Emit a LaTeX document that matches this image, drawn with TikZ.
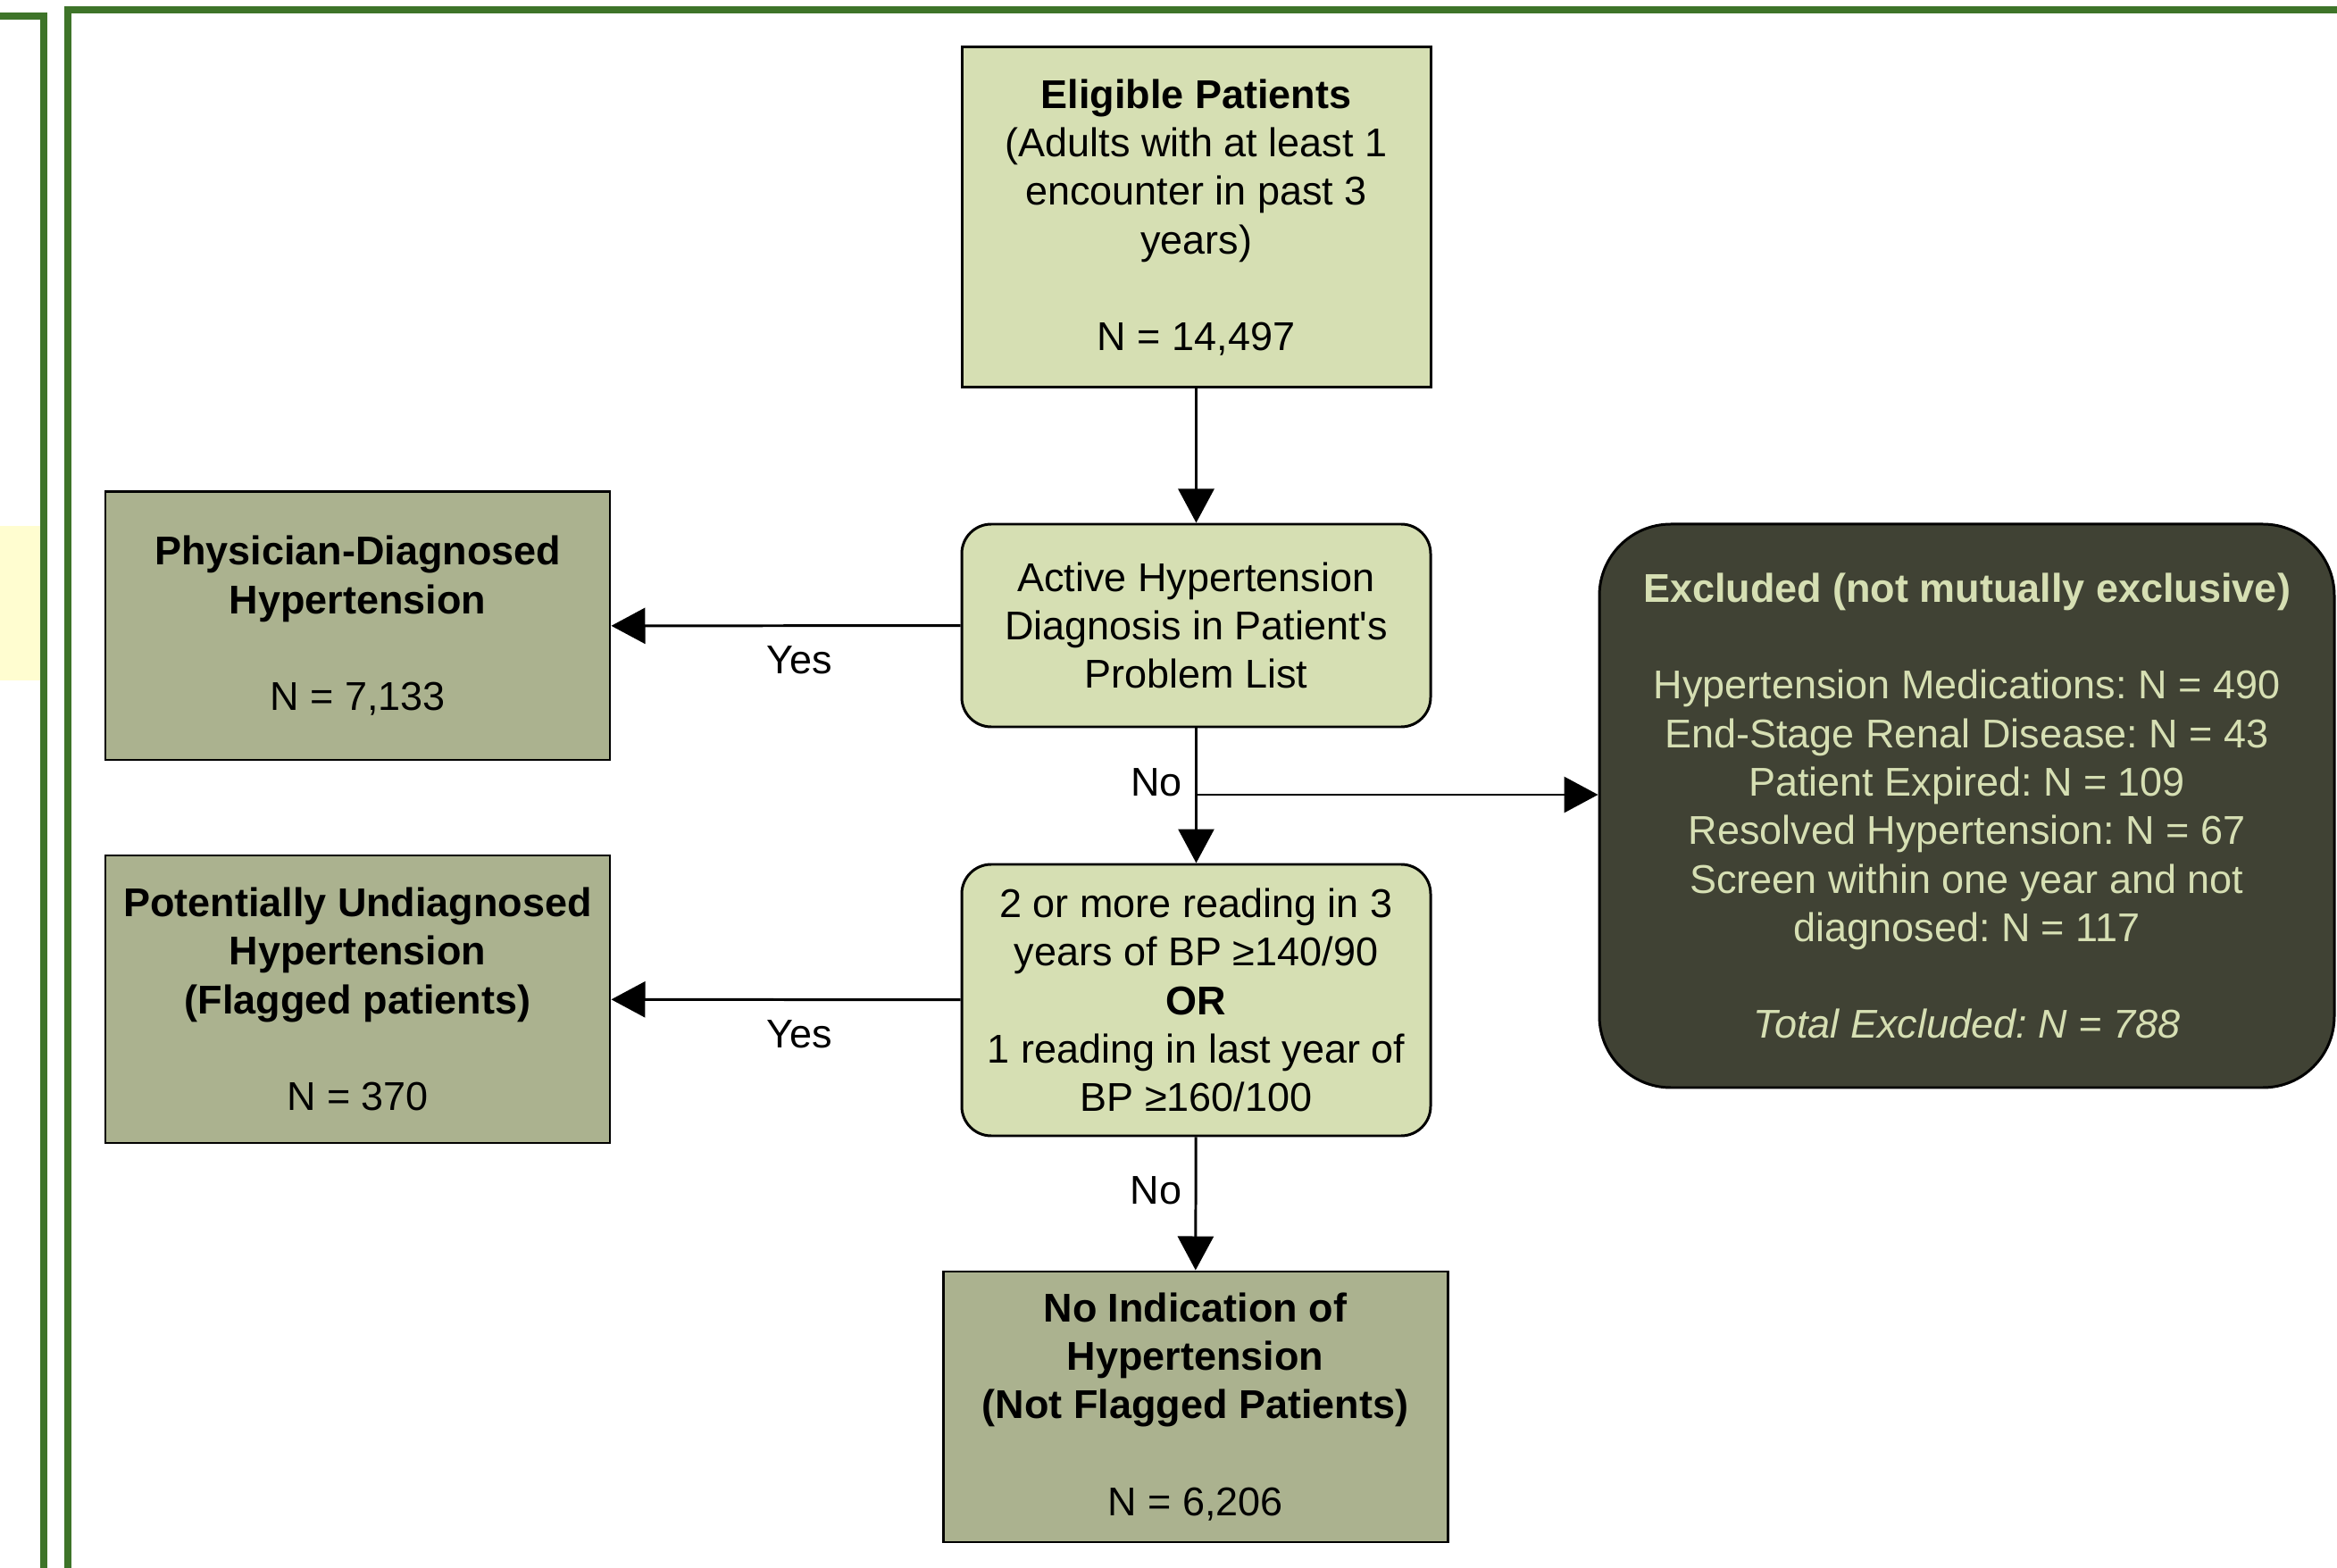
\documentclass[tikz,border=0pt]{standalone}
\usepackage{fontspec}
\setmainfont{Liberation Sans}
\usetikzlibrary{arrows.meta,positioning}
\definecolor{lightbox}{HTML}{D6DFB3}
\definecolor{midbox}{HTML}{ABB28F}
\definecolor{darkbox}{HTML}{404234}
\definecolor{frame}{HTML}{3E7429}
\definecolor{notepatch}{HTML}{FFFDD0}
\frenchspacing

\begin{document}
\begin{tikzpicture}[
	txt/.style={font=\fontsize{12.8}{15.45}\selectfont},
	lightnode/.style={txt, draw, line width=0.85pt, fill=lightbox, align=center, inner sep=0pt},
	resnode/.style={txt, draw, line width=0.85pt, fill=midbox, align=center, inner sep=0pt},
	exclnode/.style={txt, draw, line width=0.85pt, fill=darkbox, text=lightbox, align=center, rounded corners=0.8cm, inner sep=0pt},
	arr/.style={-{Triangle[length=0.38cm,width=0.40cm]}, line width=0.85pt},
	lbl/.style={txt, inner sep=4pt}
	]
			\useasboundingbox (0,0) rectangle (26.17,-17.56);
			\fill[notepatch] (0,-5.89) rectangle (0.45,-7.62);
			\draw[frame, line width=0.08cm] (0,-0.185)--(0.49,-0.185)--(0.49,-17.6);
			\draw[frame, line width=0.08cm] (0.76,-17.6)--(0.76,-0.11)--(26.2,-0.11);
			
			\node[lightnode, minimum width=5.25cm, minimum height=3.81cm] (elig) at (13.395,-2.435)
				{\textbf{Eligible Patients}\\(Adults with at least 1\\encounter in past 3\\years)\\[15.45pt]N = 14,497};
			\node[lightnode, rounded corners=0.33cm, minimum width=5.25cm, minimum height=2.27cm] (active) at (13.395,-7.005)
				{Active Hypertension\\Diagnosis in Patient\textquotesingle s\\Problem List};
			\node[lightnode, rounded corners=0.33cm, minimum width=5.25cm, minimum height=3.04cm] (reading) at (13.395,-11.2)
				{2 or more reading in 3\\years of BP ≥140/90\\\textbf{OR}\\1 reading in last year of\\BP ≥160/100};
			\node[resnode, minimum width=5.65cm, minimum height=3.03cm] (noind) at (13.385,-15.755)
				{\textbf{No Indication of}\\\textbf{Hypertension}\\\textbf{(Not Flagged Patients)}\\[15.45pt]N = 6,206};
			\node[resnode, minimum width=5.65cm, minimum height=3.0cm] (phys) at (4.005,-7.01)
				{\textbf{Physician-Diagnosed}\\\textbf{Hypertension}\\[15.45pt]N = 7,133};
			\node[resnode, minimum width=5.65cm, minimum height=3.22cm] (flag) at (4.005,-11.19)
				{\textbf{Potentially Undiagnosed}\\\textbf{Hypertension}\\\textbf{(Flagged patients)}\\[15.45pt]N = 370};
			\node[exclnode, minimum width=8.23cm, minimum height=6.31cm] (excl) at (22.025,-9.025)
				{\textbf{Excluded (not mutually exclusive)}\\[15.45pt]Hypertension Medications: N = 490\\End-Stage Renal Disease: N = 43\\Patient Expired: N = 109\\Resolved Hypertension: N = 67\\Screen within one year and not\\diagnosed: N = 117\\[15.45pt]\textit{Total Excluded: N = 788}};
			\coordinate (split) at (13.395,-8.90);
			
			\draw[arr] (elig)--(active);
			\draw[arr] (active)-- node[lbl, pos=0.46, below=2pt]{Yes} (phys);
			\draw[arr] (active)-- node[lbl, pos=0.4, left]{No} (reading);
			\draw[arr] (split)--(split -| excl.west);
			\draw[arr] (reading)-- node[lbl, pos=0.46, below=2pt]{Yes} (flag);
			\draw[arr] (reading)-- node[lbl, pos=0.4, left]{No} (noind);
		\end{tikzpicture}
\end{document}
